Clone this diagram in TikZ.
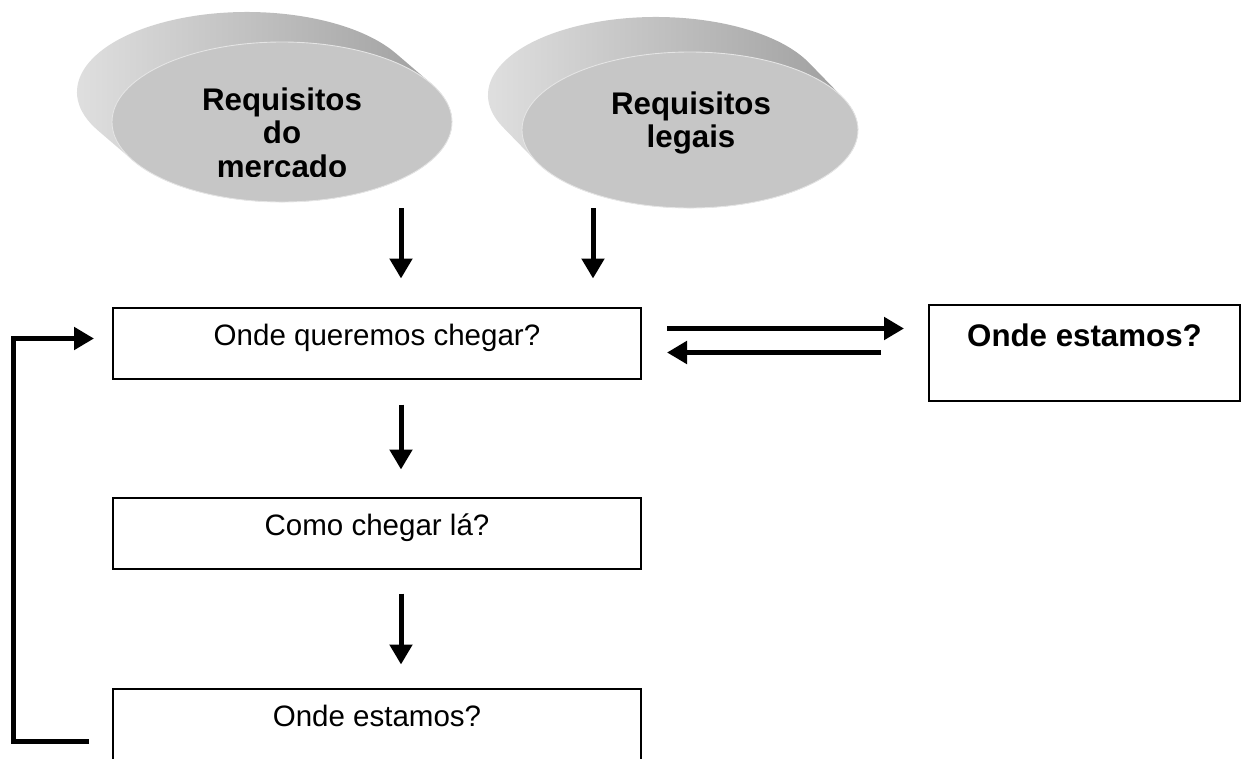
\documentclass[tikz,border=0pt]{standalone}
\usepackage{fontspec}
\setmainfont{Liberation Sans}
\usetikzlibrary{arrows.meta}

\begin{document}
\begin{tikzpicture}[
	box/.style = {draw, line width=0.04cm, minimum width=10.56cm, minimum height=1.42cm,
		text height=0.45cm, text depth=0.35cm, font=\fontsize{16.8}{19}\selectfont},
	bigbox/.style = {draw, line width=0.04cm, minimum width=6.22cm, minimum height=1.92cm,
		text height=0.45cm, text depth=0.72cm, font=\fontsize{17.8}{19}\selectfont\bfseries},
	req/.style = {align=center, inner sep=0pt, anchor=north, font=\fontsize{17.8}{19.2}\selectfont\bfseries},
	arr/.style = {line width=0.1cm, -{Triangle[width=0.44cm,length=0.4cm]}},
	side/.style = {left color=gray!22, right color=gray!80},
	front/.style = {fill=gray!45, draw=gray!20, line width=0.5pt}
	]
		\useasboundingbox (0,0) rectangle (24.84,-15.18);

		\coordinate (mf) at (5.64,-2.44);
		\coordinate (mb) at (4.94,-1.84);
		\coordinate (lf) at (13.8,-2.6);
		\coordinate (lb) at (13.12,-1.9);

		\shade[side] ([shift={(29:3.4 and 1.6)}]mb) arc[start angle=29, end angle=209, x radius=3.4, y radius=1.6]
			-- ([shift={(209:3.4 and 1.6)}]mf) arc[start angle=209, end angle=389, x radius=3.4, y radius=1.6] -- cycle;
		\draw[front] (mf) ellipse [x radius=3.4, y radius=1.6];
		\shade[side] ([shift={(24:3.36 and 1.56)}]lb) arc[start angle=24, end angle=204, x radius=3.36, y radius=1.56]
			-- ([shift={(204:3.36 and 1.56)}]lf) arc[start angle=204, end angle=384, x radius=3.36, y radius=1.56] -- cycle;
		\draw[front] (lf) ellipse [x radius=3.36, y radius=1.56];

		\begin{scope}
			\clip (0,0) rectangle (24.84,-3.52);
			\node[req] (rm) at (5.64,-1.74) {Requisitos\\do\\mercado};
		\end{scope}
		\node[req] (rl) at (13.82,-1.82) {Requisitos\\legais};

		\node[box] (q) at (7.54,-6.86) {Onde queremos chegar?};
		\node[box] (c) at (7.54,-10.66) {Como chegar lá?};
		\node[box] (w) at (7.54,-14.48) {Onde estamos?};
		\node[bigbox] (o) at (21.69,-7.06) {Onde estamos?};

		\coordinate (m1) at (8.02,-4.16);
		\coordinate (l1) at (11.86,-4.16);
		\coordinate (qa) at ([yshift=0.29cm]q.east);
		\coordinate (qb) at ([yshift=-0.19cm]q.east);

		\draw[arr, shorten >=0.56cm] (m1) -- (m1 |- q.north);
		\draw[arr, shorten >=0.56cm] (l1) -- (l1 |- q.north);
		\draw[arr, shorten <=0.5cm, shorten >=0.48cm] (qa) -- (qa -| o.west);
		\draw[arr, shorten <=0.94cm, shorten >=0.5cm] (qb -| o.west) -- (qb);
		\draw[arr, shorten <=0.5cm, shorten >=0.54cm] ([xshift=0.48cm]q.south) -- ([xshift=0.48cm]c.north);
		\draw[arr, shorten <=0.48cm, shorten >=0.46cm] ([xshift=0.48cm]c.south) -- ([xshift=0.48cm]w.north);
		\draw[arr, shorten <=0.46cm, shorten >=0.36cm] ([yshift=-0.34cm]w.west) -| ([shift={(-1.96cm,0.09cm)}]q.west) -- ([yshift=0.09cm]q.west);
	\end{tikzpicture}
\end{document}
